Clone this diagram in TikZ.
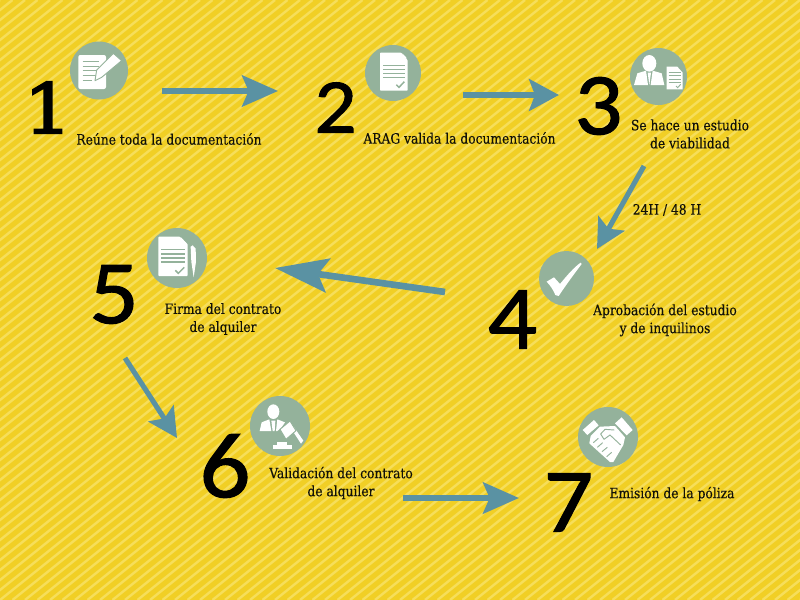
\documentclass[tikz,border=0pt]{standalone}
\usepackage{fontspec}
\usetikzlibrary{arrows.meta}
\setmainfont{DejaVu Serif}[FakeStretch=0.86,FakeBold=0.25]
\newfontfamily\digitfont{Carlito}[FakeStretch=1.08,FakeBold=1.2]
\newfontfamily\onefont{DejaVu Serif}[FakeStretch=1.1,FakeBold=2.6]
\definecolor{bgy}{HTML}{F1CF25}
\definecolor{stripe}{HTML}{F6DE5A}
\definecolor{sage}{HTML}{94B29B}
\definecolor{arrowblue}{HTML}{5A92A3}
\definecolor{ink}{HTML}{111108}
\tikzset{
  lbl/.style={font=\fontsize{10.7}{13.5}\selectfont,text=ink,align=center,inner sep=0pt},
  num/.style={font=\digitfont\fontsize{#1}{#1}\selectfont,text=black,inner sep=0pt},
  numone/.style={font=\onefont\fontsize{#1}{#1}\selectfont,text=black,inner sep=0pt},
  badge/.style={circle,fill=sage,draw=none,inner sep=0pt,minimum size=#1},
  conn/.style={draw=arrowblue,line width=4.2pt},
  tipL/.style={-{Stealth[length=27pt,width=23.5pt,inset=5pt,fill=arrowblue]}},
  tipA/.style={-{Stealth[length=22pt,width=22.5pt,inset=4.5pt,fill=arrowblue]}},
  tipB/.style={-{Stealth[length=22.5pt,width=24pt,inset=4.5pt,fill=arrowblue]}},
  tipC/.style={-{Stealth[length=40pt,width=25.5pt,inset=7.5pt,fill=arrowblue]}},
  ico/.style={fill=white,draw=none},
  gap/.style={draw=sage,line width=.9pt},
  gapfill/.style={fill=white,draw=sage,line width=.7pt,line join=round},
  zoomA/.style={x=.25pt,y=-.25pt},
}
\begin{document}
\begin{tikzpicture}[x=.75pt,y=-.75pt]
\useasboundingbox (0,0) rectangle (800,600);
\begin{scope}
\clip (0,0) rectangle (800,600);
\fill[bgy] (0,0) rectangle (800,600);
\foreach \i in {0,...,125} {
  \draw[stripe,line width=1.8pt] ({\i*12.5},0) -- ({\i*12.5-750},600);
}
\end{scope}

% badges
\node[badge=43.5pt] (b1) at (99,70.5) {};
\node[badge=42pt] (b2) at (393,73) {};
\node[badge=42.75pt] (b3) at (658.5,76.5) {};
\node[badge=41.25pt] (b4) at (566.5,278.5) {};
\node[badge=45pt] (b5) at (177,258) {};
\node[badge=45pt] (b6) at (280,426) {};
\node[badge=45pt] (b7) at (608,437) {};

% icon 1
\begin{scope}[shift={(0,20)},zoomA]
\fill[ico,rounded corners=1.5pt] (235,105) rectangle (318,207);
\foreach \y in {124,138,152,166} \draw[gap,line width=.7pt] (248,\y) -- (296,\y);
\draw[gap,line width=.7pt] (248,180) -- (275,180);
\filldraw[gapfill] (340,100) -- (365,122) -- (305,172) -- (285,182) -- (290,150) -- cycle;
\end{scope}

% icon 2
\begin{scope}[shift={(300,30)},zoomA]
\fill[ico,rounded corners=.6pt] (240,68) -- (304,68) -- (323,90) -- (323,182) -- (240,182) -- cycle;
\fill[sage] (304,68) -- (323,68) -- (323,90) -- cycle;
\fill[ico] (307,70) -- (321,85) -- (307,85) -- cycle;
\foreach \y in {106,119,131,143} \draw[gap] (250,\y) -- (314,\y);
\draw[gap,line width=1.1pt] (289,164) -- (297,172) -- (313,155);
\end{scope}

% icon 3
\begin{scope}[shift={(560,30)},zoomA]
\fill[ico] (268,100) ellipse (21 and 25);
\fill[ico] (222,165) -- (232,130) -- (258,122) -- (264,165) -- cycle;
\fill[ico] (313,165) -- (305,130) -- (278,122) -- (272,165) -- cycle;
\fill[ico] (263,128) -- (273,128) -- (268,165) -- cycle;
\fill[ico] (320,110) -- (352,110) -- (368,128) -- (368,178) -- (320,178) -- cycle;
\foreach \y in {127,137,147,157} \draw[gap,line width=.6pt] (326,\y) -- (362,\y);
\draw[gap,line width=.7pt] (348,168) -- (353,173) -- (362,163);
\end{scope}

% icon 4
\begin{scope}[shift={(480,160)},zoomA]
\fill[ico] (200,365) -- (222,352) -- (240,372) .. controls (262,345) and (282,322) .. (302,308) -- (305,312) .. controls (280,345) and (258,375) .. (236,408) -- (226,405) .. controls (220,390) and (212,378) .. cycle;
\end{scope}

% icon 5
\begin{scope}[shift={(80,220)},zoomA]
\fill[ico,rounded corners=.6pt] (235,50) -- (300,50) -- (323,72) -- (323,168) -- (235,168) -- cycle;
\fill[sage] (300,50) -- (323,50) -- (323,72) -- cycle;
\fill[ico] (303,52) -- (319,69) -- (303,69) -- cycle;
\foreach \y in {89,102,114,126} \draw[gap] (243,\y) -- (316,\y);
\draw[gap,line width=1.1pt] (286,151) -- (295,160) -- (313,142);
\fill[ico] (332,80) -- (338,76) -- (347,86) -- (348,125) -- (341,172) -- (334,125) -- cycle;
\end{scope}

% icon 6
\begin{scope}[shift={(190,390)},zoomA]
\fill[ico] (250,65) ellipse (18 and 22);
\fill[ico] (209,123) -- (215,97) -- (238,88) -- (244,123) -- cycle;
\fill[ico] (248,123) -- (244,92) -- (256,92) -- (254,123) -- cycle;
\fill[ico] (258,123) -- (262,88) -- (285,97) -- (275,112) -- (262,123) -- cycle;
\fill[ico] (304,117) -- (311,110) -- (340,152) -- (333,161) -- cycle;
\filldraw[gapfill] (270,118) -- (300,93) -- (318,122) -- (288,148) -- cycle;
\fill[ico] (262,155) rectangle (292,165);
\fill[ico] (249,165) rectangle (305,176);
\end{scope}

% icon 7
\begin{scope}[shift={(530,400)},zoomA]
\fill[ico] (158,90) -- (192,60) -- (206,76) -- (172,105) -- cycle;
\fill[ico] (255,70) -- (275,52) -- (308,90) -- (290,106) -- cycle;
\fill[ico] (182,108) -- (210,80) -- (255,78) -- (285,112) -- (280,135) -- (250,186) -- (240,186) -- (178,130) -- cycle;
\draw[gap,line width=.7pt] (222,118) -- (212,102) -- (225,88) -- (253,90);
\draw[gap,line width=.7pt] (222,118) -- (240,105) -- (272,135);
\draw[gap,line width=.7pt] (190,128) -- (205,115);
\draw[gap,line width=.7pt] (202,142) -- (218,128);
\draw[gap,line width=.7pt] (216,155) -- (232,142);
\draw[gap,line width=.7pt] (230,170) -- (245,157);
\end{scope}

% digits
\node[numone=52] (n1) at (48,107.5) {1};
\node[num=58] (n2) at (335.5,107.5) {2};
\node[num=66] (n3) at (598.5,106) {3};
\node[num=68] (n4) at (512.5,319.5) {4};
\node[num=68] (n5) at (114,294.5) {5};
\node[num=70] (n6) at (225,466) {6};
\node[num=68] (n7) at (568.5,502.5) {7};

% labels
\node[lbl] (t1) at (169,139) {Reúne toda la documentación};
\node[lbl] (t2) at (459.5,138) {ARAG valida la documentación};
\node[lbl] (t3) at (690,134) {Se hace un estudio\\de viabilidad};
\node[lbl] (t34) at (667,210) {24H / 48 H};
\node[lbl] (t4) at (665,320) {Aprobación del estudio\\y de inquilinos};
\node[lbl] (t5) at (223,319) {Firma del contrato\\de alquiler};
\node[lbl] (t6) at (341,483) {Validación del contrato\\de alquiler};
\node[lbl] (t7) at (672,494) {Emisión de la póliza};

% connectors
\coordinate (a1s) at (162,91); \coordinate (a1e) at (278,91);
\coordinate (a2s) at (463,95); \coordinate (a2e) at (559,95);
\coordinate (a3s) at (644,166); \coordinate (a3e) at (597,249);
\coordinate (a4s) at (445,292); \coordinate (a4e) at (275,268);
\coordinate (a5s) at (125,358); \coordinate (a5e) at (177,438);
\coordinate (a6s) at (403,498); \coordinate (a6e) at (519,498);
\draw[conn,tipL] (a1s) -- (a1e);
\draw[conn,tipB,line width=3.8pt] (a2s) -- (a2e);
\draw[conn,tipA,line width=3.8pt] (a3s) -- (a3e);
\draw[conn,tipC,line width=5pt] (a4s) -- (a4e);
\draw[conn,tipA,line width=3.8pt] (a5s) -- (a5e);
\draw[conn,tipL] (a6s) -- (a6e);
\end{tikzpicture}
\end{document}
